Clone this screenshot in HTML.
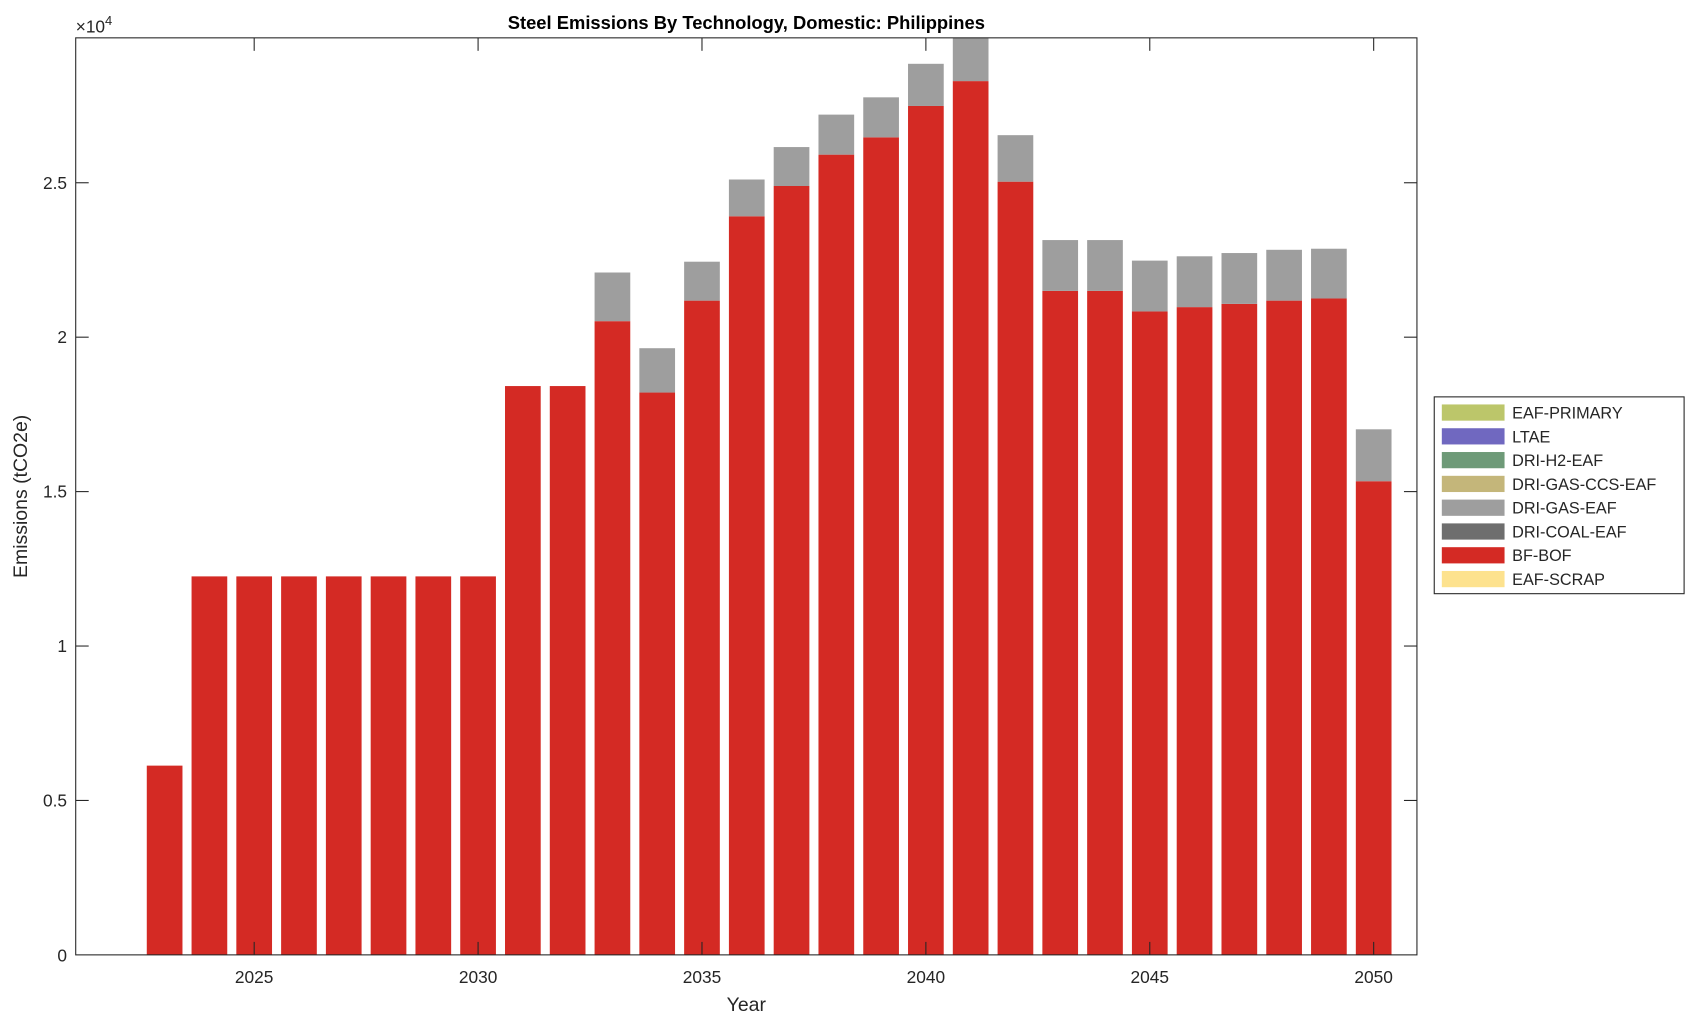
<!DOCTYPE html>
<html><head><meta charset="utf-8"><style>
html,body{margin:0;padding:0;background:#fff;}
svg{display:block;}
text{font-family:"Liberation Sans",Arial,sans-serif;fill:#262626;}
</style></head><body>
<svg width="1696" height="1023" viewBox="0 0 1568 946" preserveAspectRatio="none" xmlns="http://www.w3.org/2000/svg">
<rect x="0" y="0" width="1568" height="946" fill="#fff"/>
<g fill="#d42a24">
<rect x="135.7" y="708" width="33" height="175"/>
<rect x="177.1" y="533" width="33" height="350"/>
<rect x="218.5" y="533" width="33" height="350"/>
<rect x="259.9" y="533" width="33" height="350"/>
<rect x="301.3" y="533" width="33" height="350"/>
<rect x="342.7" y="533" width="33" height="350"/>
<rect x="384.1" y="533" width="33" height="350"/>
<rect x="425.5" y="533" width="33" height="350"/>
<rect x="466.9" y="357" width="33" height="526"/>
<rect x="508.3" y="357" width="33" height="526"/>
<rect x="549.7" y="297" width="33" height="586"/>
<rect x="591.1" y="363" width="33" height="520"/>
<rect x="632.5" y="278" width="33" height="605"/>
<rect x="673.9" y="200" width="33" height="683"/>
<rect x="715.3" y="172" width="33" height="711"/>
<rect x="756.7" y="143" width="33" height="740"/>
<rect x="798.1" y="127" width="33" height="756"/>
<rect x="839.5" y="98" width="33" height="785"/>
<rect x="880.9" y="75" width="33" height="808"/>
<rect x="922.3" y="168" width="33" height="715"/>
<rect x="963.7" y="269" width="33" height="614"/>
<rect x="1005.1" y="269" width="33" height="614"/>
<rect x="1046.5" y="288" width="33" height="595"/>
<rect x="1087.9" y="284" width="33" height="599"/>
<rect x="1129.3" y="281" width="33" height="602"/>
<rect x="1170.7" y="278" width="33" height="605"/>
<rect x="1212.1" y="276" width="33" height="607"/>
<rect x="1253.5" y="445" width="33" height="438"/>
</g>
<g fill="#9e9e9e">
<rect x="549.7" y="252" width="33" height="45"/>
<rect x="591.1" y="322" width="33" height="41"/>
<rect x="632.5" y="242" width="33" height="36"/>
<rect x="673.9" y="166" width="33" height="34"/>
<rect x="715.3" y="136" width="33" height="36"/>
<rect x="756.7" y="106" width="33" height="37"/>
<rect x="798.1" y="90" width="33" height="37"/>
<rect x="839.5" y="59" width="33" height="39"/>
<rect x="880.9" y="35" width="33" height="40"/>
<rect x="922.3" y="125" width="33" height="43"/>
<rect x="963.7" y="222" width="33" height="47"/>
<rect x="1005.1" y="222" width="33" height="47"/>
<rect x="1046.5" y="241" width="33" height="47"/>
<rect x="1087.9" y="237" width="33" height="47"/>
<rect x="1129.3" y="234" width="33" height="47"/>
<rect x="1170.7" y="231" width="33" height="47"/>
<rect x="1212.1" y="230" width="33" height="46"/>
<rect x="1253.5" y="397" width="33" height="48"/>
</g>
<rect x="70" y="35" width="1240" height="848" fill="none" stroke="#262626" stroke-width="1"/>
<g stroke="#262626" stroke-width="1">
<line x1="235" y1="883" x2="235" y2="871"/><line x1="442" y1="883" x2="442" y2="871"/><line x1="649" y1="883" x2="649" y2="871"/><line x1="856" y1="883" x2="856" y2="871"/><line x1="1063" y1="883" x2="1063" y2="871"/><line x1="1270" y1="883" x2="1270" y2="871"/>
<line x1="235" y1="35" x2="235" y2="47"/><line x1="442" y1="35" x2="442" y2="47"/><line x1="649" y1="35" x2="649" y2="47"/><line x1="856" y1="35" x2="856" y2="47"/><line x1="1063" y1="35" x2="1063" y2="47"/><line x1="1270" y1="35" x2="1270" y2="47"/>
<line x1="70" y1="740.2" x2="82" y2="740.2"/><line x1="70" y1="597.4" x2="82" y2="597.4"/><line x1="70" y1="454.6" x2="82" y2="454.6"/><line x1="70" y1="311.8" x2="82" y2="311.8"/><line x1="70" y1="169" x2="82" y2="169"/>
<line x1="1310" y1="740.2" x2="1298" y2="740.2"/><line x1="1310" y1="597.4" x2="1298" y2="597.4"/><line x1="1310" y1="454.6" x2="1298" y2="454.6"/><line x1="1310" y1="311.8" x2="1298" y2="311.8"/><line x1="1310" y1="169" x2="1298" y2="169"/>
</g>
<g font-size="16" text-anchor="middle">
<text x="235" y="909">2025</text><text x="442" y="909">2030</text><text x="649" y="909">2035</text><text x="856" y="909">2040</text><text x="1063" y="909">2045</text><text x="1270" y="909">2050</text>
</g>
<g font-size="16" text-anchor="end">
<text x="62" y="889">0</text><text x="62" y="746">0.5</text><text x="62" y="603">1</text><text x="62" y="460">1.5</text><text x="62" y="317">2</text><text x="62" y="175">2.5</text>
</g>
<text x="70" y="30" font-size="16">×10<tspan font-size="12" dy="-7">4</tspan></text>
<text x="690" y="935" font-size="18" text-anchor="middle">Year</text>
<text transform="translate(25,459) rotate(-90)" font-size="18" text-anchor="middle">Emissions (tCO2e)</text>
<text x="690" y="27" font-size="17" font-weight="bold" text-anchor="middle" style="fill:#000">Steel Emissions By Technology, Domestic: Philippines</text>
<rect x="1326" y="367" width="231" height="182" fill="#fff" stroke="#262626" stroke-width="1"/>
<g font-size="15">
<rect x="1333" y="374" width="58" height="15" fill="#bcc66a"/><text x="1398" y="387">EAF-PRIMARY</text>
<rect x="1333" y="396" width="58" height="15" fill="#7068c0"/><text x="1398" y="409">LTAE</text>
<rect x="1333" y="418" width="58" height="15" fill="#6e9a78"/><text x="1398" y="431">DRI-H2-EAF</text>
<rect x="1333" y="440" width="58" height="15" fill="#c4b67a"/><text x="1398" y="453">DRI-GAS-CCS-EAF</text>
<rect x="1333" y="462" width="58" height="15" fill="#9e9e9e"/><text x="1398" y="475">DRI-GAS-EAF</text>
<rect x="1333" y="484" width="58" height="15" fill="#6e6e6e"/><text x="1398" y="497">DRI-COAL-EAF</text>
<rect x="1333" y="506" width="58" height="15" fill="#d42a24"/><text x="1398" y="519">BF-BOF</text>
<rect x="1333" y="528" width="58" height="15" fill="#fde28e"/><text x="1398" y="541">EAF-SCRAP</text>
</g>
</svg>
</body></html>
